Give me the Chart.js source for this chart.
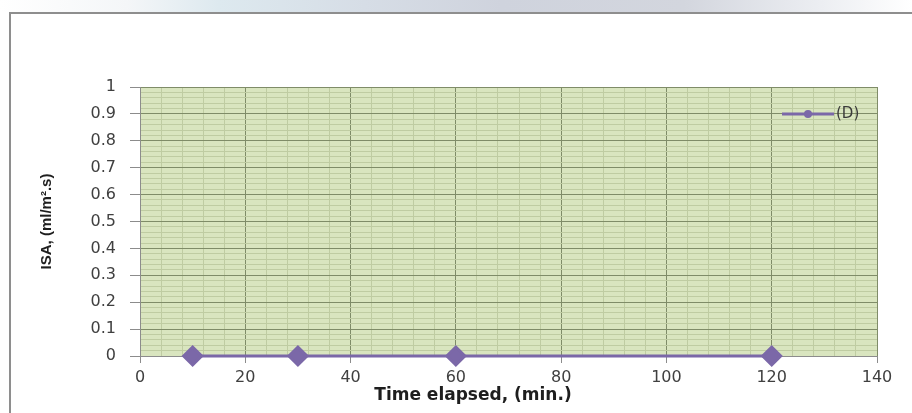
<!DOCTYPE html>
<html>
<head>
<meta charset="utf-8">
<script src="https://cdn.jsdelivr.net/npm/chart.js@4.4.1/dist/chart.umd.min.js"></script>
<style>
  html, body { margin: 0; padding: 0; background: #fff; }
  #wrap { position: relative; width: 912px; height: 413px; overflow: hidden; }
  /* blurred strip from the picture above the figure */
  #strip {
    position: absolute; left: 0; top: 0; width: 912px; height: 12px;
    background: linear-gradient(90deg, #ffffff 0%, #f4f6f8 14%, #dde9ef 24%, #d6dde6 40%, #cfd3dd 55%, #d3d6de 75%, #eceef2 90%, #ffffff 100%);
  }
  #frame {
    position: absolute; left: 9px; top: 12px; width: 920px; height: 420px;
    border-left: 2px solid #8e8e8e; border-top: 2px solid #8e8e8e;
    box-sizing: border-box;
  }
  canvas { position: absolute; left: 0; top: 0; }
</style>
</head>
<body>
<div id="wrap">
  <div id="strip"></div>
  <div id="frame"></div>
  <canvas id="chart" width="912" height="413"></canvas>
</div>
<script>
// --- Data ---
const seriesLabel = '(D)';
const timeMin = [10, 30, 60, 120];
const isaValues = [0, 0, 0, 0];

const xTickLabels = [0, 20, 40, 60, 80, 100, 120, 140];
const yTickLabels = ['0', '0.1', '0.2', '0.3', '0.4', '0.5', '0.6', '0.7', '0.8', '0.9', '1'];

const purple = '#7b68a8';
const majorGrid = '#7f8c68';
const minorGrid = '#bfcca2';

function isMajorX(v) { return xTickLabels.includes(Math.round(v)); }
function isMajorY(v) { return Math.round(v * 100) % 10 === 0; }

// plot background + legend inside the plot
const plotDecor = {
  id: 'plotDecor',
  beforeDraw(chart) {
    const { ctx, chartArea: a } = chart;
    ctx.save();
    ctx.fillStyle = '#d9e5bf';
    ctx.fillRect(a.left, a.top, a.right - a.left, a.bottom - a.top);
    ctx.restore();
  },
  afterDraw(chart) {
    const { ctx, chartArea: a } = chart;
    const ds = chart.data.datasets[0];
    const x0 = a.right - 95, y0 = a.top + 27;
    ctx.save();
    ctx.strokeStyle = ds.borderColor;
    ctx.lineWidth = 3;
    ctx.beginPath();
    ctx.moveTo(x0, y0);
    ctx.lineTo(x0 + 52, y0);
    ctx.stroke();
    ctx.fillStyle = ds.borderColor;
    ctx.beginPath();
    ctx.arc(x0 + 26, y0, 4, 0, Math.PI * 2);
    ctx.fill();
    ctx.fillStyle = '#3a3a3a';
    ctx.font = '15px "DejaVu Sans"';
    ctx.textBaseline = 'middle';
    ctx.fillText(ds.label, x0 + 54, y0);
    ctx.restore();
  }
};

new Chart(document.getElementById('chart'), {
  type: 'line',
  data: {
    datasets: [{
      label: seriesLabel,
      data: timeMin.map((t, i) => ({ x: t, y: isaValues[i] })),
      borderColor: purple,
      backgroundColor: purple,
      borderWidth: 3,
      pointStyle: 'rectRot',
      pointRadius: 9,
      pointBackgroundColor: purple,
      pointBorderColor: purple,
      clip: false,
      tension: 0
    }]
  },
  options: {
    responsive: false,
    animation: false,
    layout: { padding: { left: 0, top: 87, right: 35, bottom: 8 } },
    plugins: { legend: { display: false }, tooltip: { enabled: false } },
    scales: {
      x: {
        type: 'linear',
        min: 0, max: 140,
        afterFit(s) { s.height = 49; },
        border: { color: '#8c8c8c', width: 1 },
        grid: {
          color: c => isMajorX(c.tick.value) ? majorGrid : minorGrid,
          tickColor: c => isMajorX(c.tick.value) ? '#8c8c8c' : 'rgba(0,0,0,0)',
          tickLength: 7,
          lineWidth: 1
        },
        ticks: {
          stepSize: 4,
          autoSkip: false,
          maxRotation: 0,
          maxTicksLimit: 1000,
          padding: 5,
          color: '#404040',
          font: { family: 'DejaVu Sans', size: 16 },
          callback: v => isMajorX(v) ? String(Math.round(v)) : ''
        },
        title: {
          display: true,
          // trailing spaces shift the centred title left, as in the source
          text: 'Time elapsed, (min.)' + '\u00a0'.repeat(12),
          color: '#1e1e1e',
          font: { family: 'DejaVu Sans', size: 17, weight: 'bold' },
          padding: { top: 0, bottom: -1 }
        }
      },
      y: {
        min: 0, max: 1,
        afterFit(s) { s.width = 140; },
        border: { color: '#8c8c8c', width: 1 },
        grid: {
          color: c => isMajorY(c.tick.value) ? majorGrid : minorGrid,
          tickColor: c => isMajorY(c.tick.value) ? '#8c8c8c' : 'rgba(0,0,0,0)',
          tickLength: 10,
          lineWidth: 1
        },
        ticks: {
          stepSize: 0.02,
          autoSkip: false,
          maxTicksLimit: 1000,
          padding: 14,
          color: '#404040',
          font: { family: 'DejaVu Sans', size: 16 },
          callback: v => isMajorY(v) ? yTickLabels[Math.round(v * 10)] : ''
        },
        title: {
          display: true,
          text: 'ISA, (ml/m\u00b2.s)',
          color: '#1e1e1e',
          font: { family: 'Liberation Sans', size: 15, weight: 'bold' },
          padding: { top: 38, bottom: 0 }
        }
      }
    }
  },
  plugins: [plotDecor]
});
</script>
</body>
</html>
